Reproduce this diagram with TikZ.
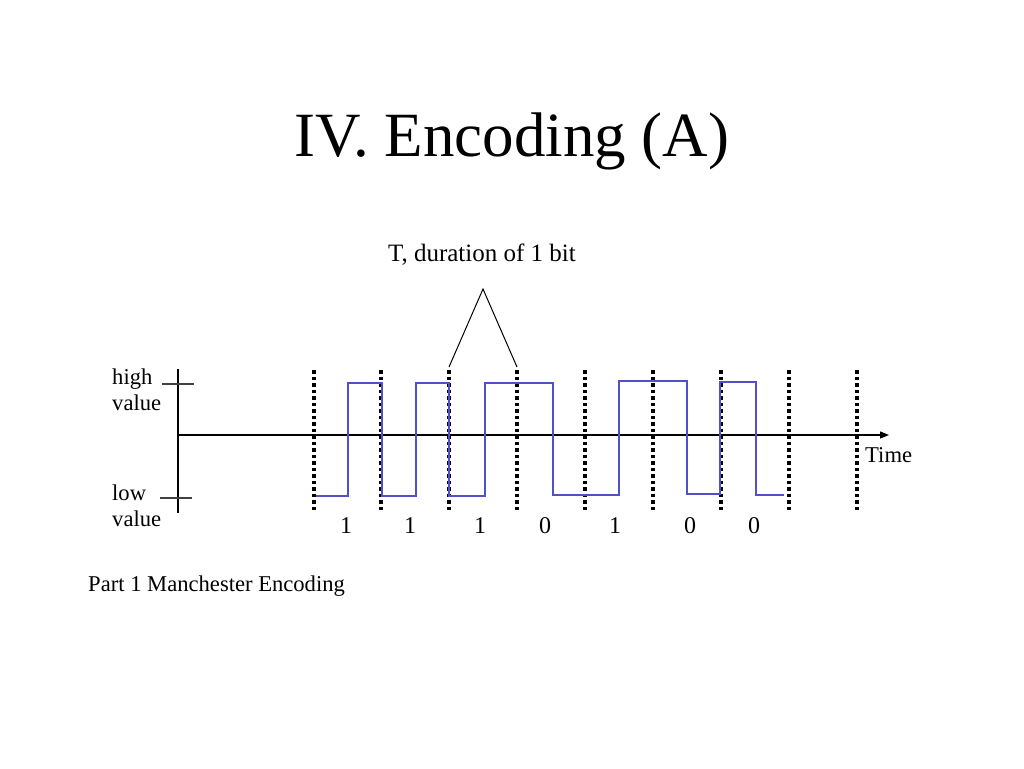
\documentclass[tikz,border=0pt]{standalone}
\usepackage{fontspec}
\setmainfont{Liberation Serif}
\usetikzlibrary{arrows.meta}
\definecolor{wave}{RGB}{80,80,205}
\begin{document}
\begin{tikzpicture}[x=1pt,y=-1pt,
  bitline/.style={line width=4pt,dash pattern=on 3.5pt off 3pt},
  axisline/.style={line width=1.3pt,black},
  sig/.style={line width=1.1pt,wave},
  lbl/.style={font=\fontsize{22.6}{26}\selectfont,inner sep=0pt,anchor=base west},
  digit/.style={font=\fontsize{24}{28}\selectfont,inner sep=0pt,anchor=base}]
\useasboundingbox (0,0) rectangle (1024,768);
\node[font=\fontsize{63}{72}\selectfont,inner sep=0pt,anchor=base] (title) at (512,156) {IV. Encoding (A)};
\node[font=\fontsize{25}{30}\selectfont,inner sep=0pt,anchor=base] (tlabel) at (482,261) {T, duration of 1 bit};
% dotted bit boundaries
\foreach \i/\x in {1/314,2/381,3/449,4/517,5/585,6/653,7/721,8/789,9/857}{
  \coordinate (t\i) at (\x,370);
  \coordinate (b\i) at (\x,513);
  \draw[bitline] (t\i) -- (b\i);
}
% axes
\coordinate (ax0) at (177,435);
\coordinate (ax1) at (889,435);
\draw[axisline,-{Triangle[length=9pt,width=7pt]}] (ax0) -- (ax1);
\coordinate (vy0) at (178,369);
\coordinate (vy1) at (178,513);
\draw[axisline] (vy0) -- (vy1);
\coordinate (hi0) at (162,384); \coordinate (hi1) at (194,384);
\coordinate (lo0) at (160,498); \coordinate (lo1) at (192,498);
\draw[line width=1.2pt,black!75] (hi0) -- (hi1);
\draw[line width=1.2pt,black!75] (lo0) -- (lo1);
% triangle
\coordinate (apex) at (483,289);
\coordinate (tl) at (449,367);
\coordinate (tr) at (517,367);
\draw[line width=1pt] (tl) -- (apex) -- (tr);
% waveform
\coordinate (w0) at (316,496);
\draw[sig] (w0) -- (348,496) -- (348,383) -- (382,383) -- (382,496) -- (416,496) -- (416,383) -- (449,383) -- (449,496) -- (485,496) -- (485,383) -- (553,383) -- (553,495) -- (619,495) -- (619,381) -- (687,381) -- (687,494) -- (720,494) -- (720,382) -- (756,382) -- (756,495) -- (784,495);
% labels
\node[lbl] (high) at (112,384) {high};
\node[lbl] (highv) at (112,410) {value};
\node[lbl] (low) at (112,500) {low};
\node[lbl] (lowv) at (112,526) {value};
\node[lbl] (time) at (865,462) {Time};
\foreach \j/\x/\d in {1/346/1,2/410/1,3/480/1,4/545/0,5/615/1,6/690/0,7/754/0}{
  \node[digit] (d\j) at (\x,533) {\d};
}
\node[font=\fontsize{22.6}{27}\selectfont,inner sep=0pt,anchor=base west] (part) at (88,591) {Part 1 Manchester Encoding};
\end{tikzpicture}
\end{document}
